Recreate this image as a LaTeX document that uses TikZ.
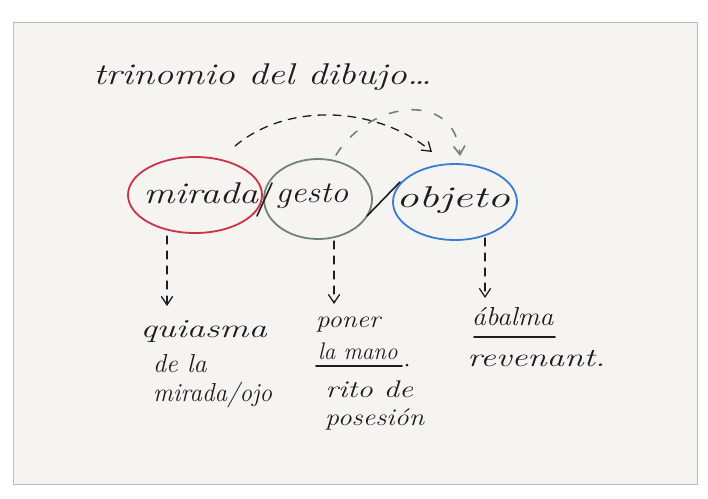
\documentclass[tikz,border=0pt]{standalone}
\usepackage{tikz}
\usetikzlibrary{arrows.meta,shapes.geometric,positioning}
\usepackage{xcolor}
\definecolor{card}{RGB}{245,244,240}
\definecolor{cardedge}{RGB}{190,188,184}
\definecolor{ink}{RGB}{28,28,34}
\definecolor{crayonred}{RGB}{205,50,70}
\definecolor{crayongreen}{RGB}{112,132,114}
\definecolor{crayonblue}{RGB}{55,125,215}

\begin{document}
\begin{tikzpicture}[x=1pt,y=-1pt,>={Straight Barb[length=3mm,width=4mm]},line cap=round,
  hand/.style={font=\fontsize{30}{34}\selectfont\itshape,text=ink,inner sep=0pt},
  note/.style={hand,anchor=west,font=\fontsize{26}{30}\selectfont\itshape},
  smallnote/.style={hand,anchor=west,font=\fontsize{24}{28}\selectfont\itshape},
  loop/.style={ellipse,draw,line width=1.8pt,inner sep=0pt},
  lead/.style={->,ink,line width=1.3pt,dash pattern=on 8pt off 7pt},
  greenlead/.style={->,crayongreen,line width=1.6pt,dash pattern=on 9pt off 14pt}]
\useasboundingbox (0,0) rectangle (708,498);
\fill[white] (0,0) rectangle (708,498);
\filldraw[fill=card,draw=cardedge,line width=0.6pt] (13,22) rectangle (697,484);
% title
\node[hand,anchor=west,xscale=1.28] (titulo) at (93,77) {trinomio del dibujo\dots};
% the three loops
\node[loop,draw=crayonred,minimum width=134,minimum height=76] (mirada) at (195,195) {};
\node[loop,draw=crayongreen,minimum width=108,minimum height=80] (gesto) at (318,199) {};
\node[loop,draw=crayonblue,minimum width=124,minimum height=76] (objeto) at (455,202) {};
\node[hand,xscale=1.29] (tmirada) at (201,193) {mirada};
\node[hand,xscale=1.14] (tgesto) at (312,196) {gesto};
\node[hand,xscale=1.5] (tobjeto) at (453,200) {objeto};
\draw[ink,line width=1.6pt] (272,183) -- (257,216);
\draw[ink,line width=1.6pt] (400,182) -- (367,216);
% arcs over the top
\coordinate (arcA) at (235,146);
\coordinate (arcB) at (432,152);
\draw[lead] (arcA) .. controls (290,100) and (380,108) .. (arcB);
\coordinate (arcC) at (460,156);
\draw[greenlead] (gesto.north) ++(18,-3) .. controls (370,100) and (455,90) .. (arcC);
% down to the words
\coordinate (downA) at (167,306);
\coordinate (downB) at (334,304);
\coordinate (downC) at (485,298);
\draw[lead] (167,236) -- (downA);
\draw[lead] (334,241) -- (downB);
\draw[lead] (485,238) -- (downC);
% under mirada
\node[note,xscale=1.4] (quiasma) at (140,332) {quiasma};
\node[note] (dela) at (153,364) {de la};
\node[note,xscale=0.96] (ojo) at (153,395) {mirada/ojo};
% under gesto
\node[smallnote,xscale=1.13] (poner) at (316,325) {poner};
\node[smallnote,xscale=0.96] (mano) at (318,351) {la mano};
\draw[ink,line width=1.8pt] (316,366) -- (402,366);
\fill[ink] (407,365) circle (1.5pt);
\node[smallnote,xscale=1.29] (rito) at (325,389) {rito de};
\node[smallnote,xscale=1.16] (posesion) at (325,419) {posesión};
% under objeto
\node[note,xscale=1.06] (abalma) at (472,317) {ábalma};
\draw[ink,line width=1.8pt] (474,337) -- (555,337);
\node[note,xscale=1.35] (revenant) at (467,358) {revenant.};
\end{tikzpicture}
\end{document}
